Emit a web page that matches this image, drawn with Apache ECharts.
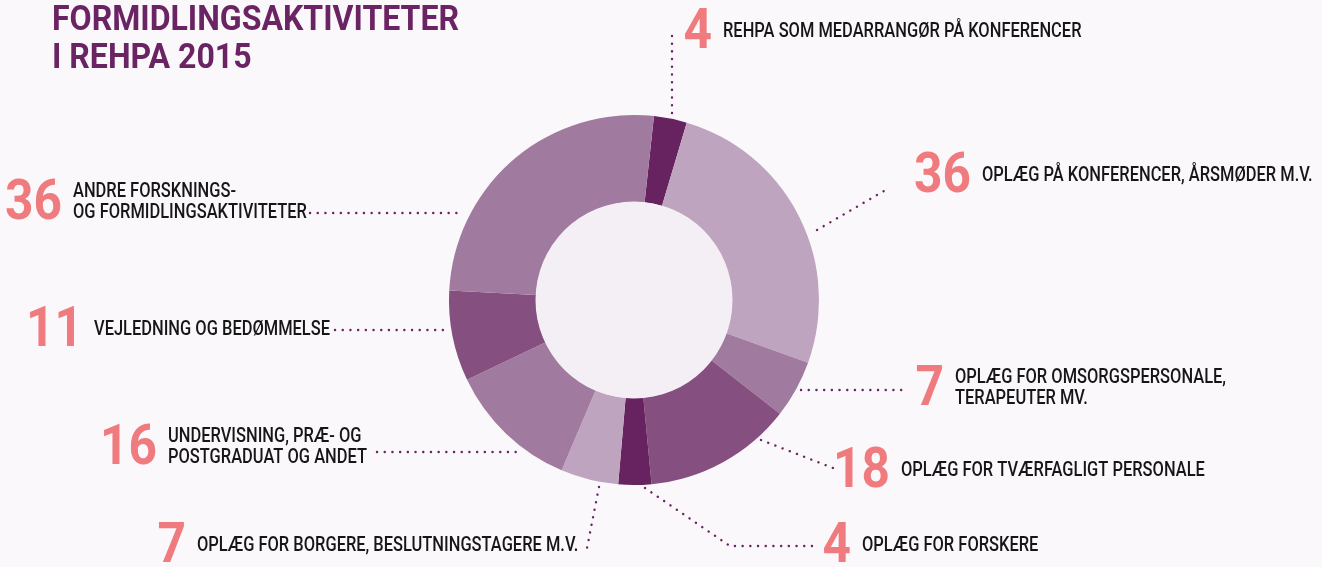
<!DOCTYPE html>
<html>
<head>
<meta charset="utf-8">
<script src="https://cdn.jsdelivr.net/npm/echarts@6/dist/echarts.min.js"></script>
<style>
  html, body { margin: 0; padding: 0; background: #fbf8fc; }
  #box { width: 1322px; height: 567px; }
</style>
</head>
<body>
<div id="box"></div>
<script>
// data, clockwise from the top
const categories = [
  "REHPA SOM MEDARRANGØR PÅ KONFERENCER",
  "OPLÆG PÅ KONFERENCER, ÅRSMØDER M.V.",
  "OPLÆG FOR OMSORGSPERSONALE,\nTERAPEUTER MV.",
  "OPLÆG FOR TVÆRFAGLIGT PERSONALE",
  "OPLÆG FOR FORSKERE",
  "OPLÆG FOR BORGERE, BESLUTNINGSTAGERE M.V.",
  "UNDERVISNING, PRÆ- OG\nPOSTGRADUAT OG ANDET",
  "VEJLEDNING OG BEDØMMELSE",
  "ANDRE FORSKNINGS-\nOG FORMIDLINGSAKTIVITETER"
];
const values = [4, 36, 7, 18, 4, 7, 16, 11, 36];
const titleText = "FORMIDLINGSAKTIVITETER\nI REHPA 2015";

// styles / layout
const sliceColors = ["#67235f", "#bfa4bf", "#a17a9f", "#854f80", "#67235f", "#bfa4bf", "#a17a9f", "#854f80", "#a17a9f"];
// [text x, text center y]
const labelPos = [[723, 32], [982, 176], [955, 389], [901, 471], [862, 546], [197, 546], [168, 448], [94, 330], [73, 203]];
const leaders = [
  [[672, 113], [672, 30]],
  [[817, 230], [889, 188]],
  [[801, 390], [908, 390]],
  [[761, 440], [833, 468]],
  [[645, 488], [730, 546], [815, 546]],
  [[599, 487], [587, 548]],
  [[377, 452], [520, 452]],
  [[335, 330], [443, 330]],
  [[310, 213], [458, 213]]
];

const face = "Roboto, 'Noto Sans', sans-serif";

// the original face is condensed; squeeze Roboto horizontally to the same widths
function textWidth(str, font) {
  let ctx = document.createElement("canvas").getContext("2d");
  ctx.font = font;
  return ctx.measureText(str).width;
}
const descScale = 236 / textWidth("VEJLEDNING OG BEDØMMELSE", "500 19.5px " + face);
const titleScale = 407 / textWidth("FORMIDLINGSAKTIVITETER", "bold 35px " + face);
const numScale = 57 / textWidth("36", "bold 56px " + face);

const chart = echarts.init(document.getElementById("box"), null, { renderer: "canvas" });

let graphic = [
  {
    type: "circle",
    silent: true,
    z: 10,
    shape: { cx: 634, cy: 300, r: 98.5 },
    style: { fill: "#f3eff4" }
  },
  {
    type: "text",
    x: 52,
    y: 40.5,
    scaleX: titleScale,
    style: {
      text: titleText,
      fontFamily: face,
      fontWeight: "bold",
      fontSize: 35,
      lineHeight: 38,
      fill: "#6b2463",
      textVerticalAlign: "middle"
    }
  }
];

categories.forEach((name, i) => {
  let p = labelPos[i];
  graphic.push({
    type: "text",
    x: p[0] - 11,
    y: p[1] + 1.5,
    scaleX: numScale,
    style: {
      text: String(values[i]),
      fontFamily: face,
      fontWeight: "bold",
      fontSize: 56,
      fill: "#f07b7e",
      textAlign: "right",
      textVerticalAlign: "middle"
    }
  });
  graphic.push({
    type: "text",
    x: p[0],
    y: p[1],
    scaleX: descScale,
    style: {
      text: name,
      fontFamily: face,
      fontWeight: 500,
      fontSize: 19.5,
      lineHeight: 21,
      fill: "#161616",
      textVerticalAlign: "middle"
    }
  });
  graphic.push({
    type: "polyline",
    silent: true,
    shape: { points: leaders[i] },
    style: {
      stroke: "#6b2463",
      lineWidth: 2.4,
      lineCap: "round",
      lineDash: [0.1, 7.6],
      fill: null
    }
  });
});

let option = {
  backgroundColor: "#fbf8fc",
  animation: false,
  series: [
    {
      type: "pie",
      silent: true,
      center: [634, 300],
      radius: [98, 185],
      startAngle: 83.8,
      clockwise: true,
      label: { show: false },
      labelLine: { show: false },
      itemStyle: { borderWidth: 0 },
      data: values.map((v, i) => ({
        name: categories[i],
        value: v,
        itemStyle: { color: sliceColors[i] }
      }))
    }
  ],
  graphic: graphic
};

chart.setOption(option);
</script>
</body>
</html>
